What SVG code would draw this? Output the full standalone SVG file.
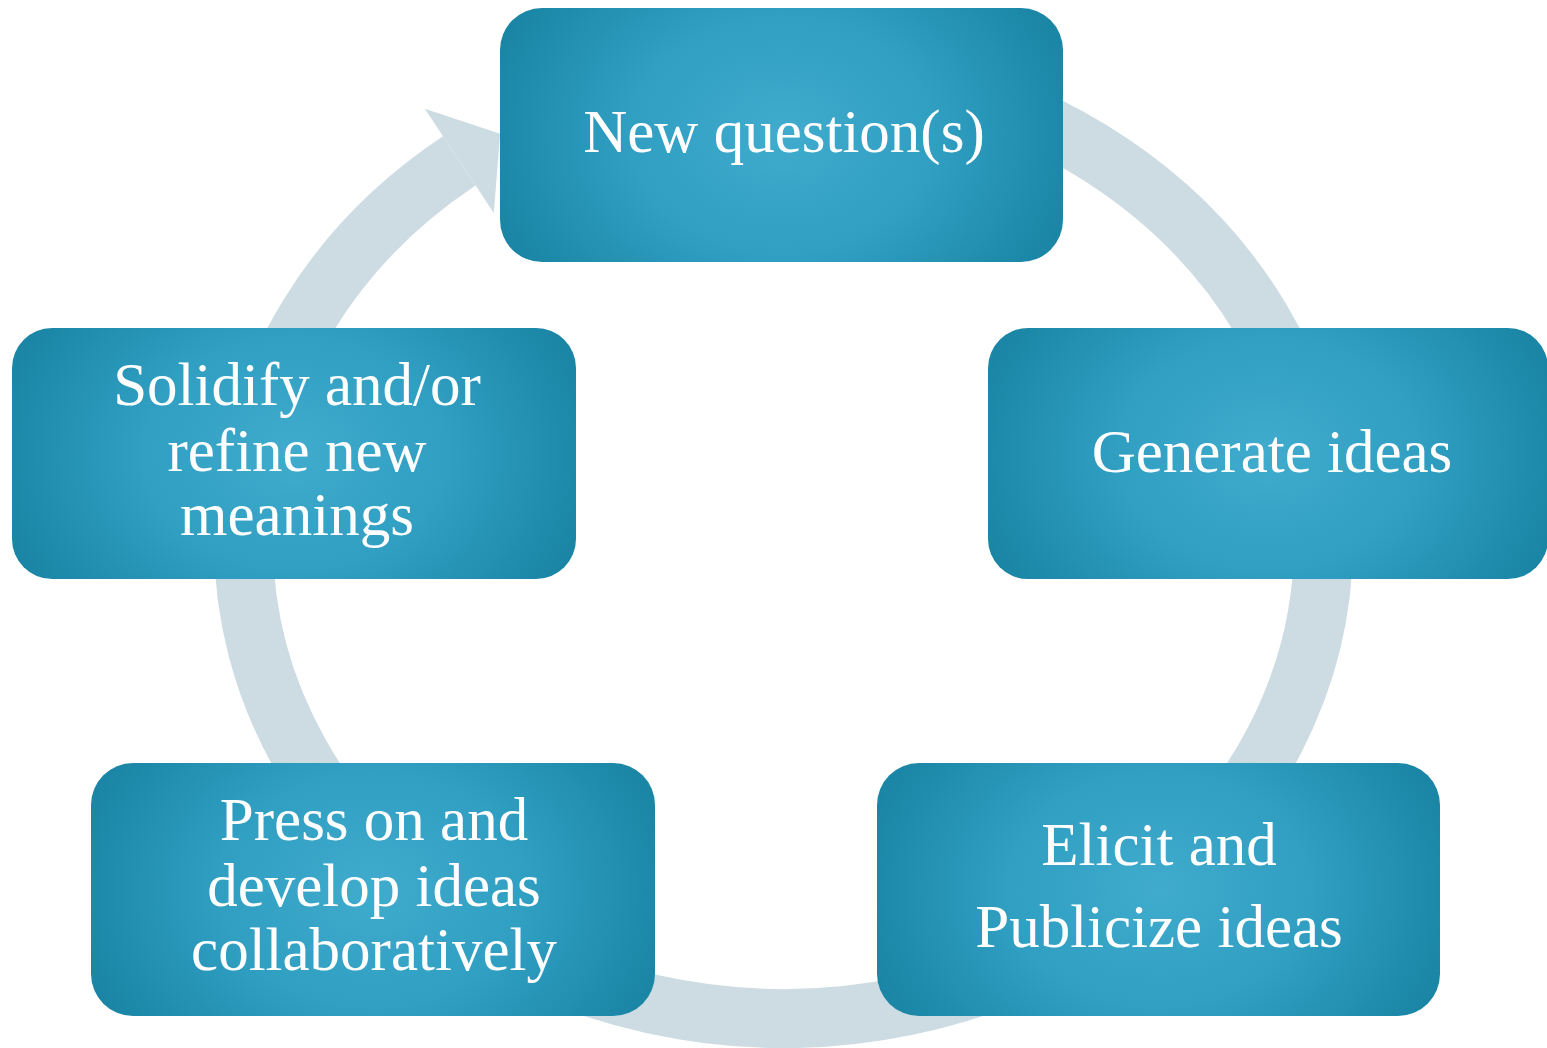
<svg xmlns="http://www.w3.org/2000/svg" width="1547" height="1048" viewBox="0 0 1547 1048">
  <defs>
    <!-- soft centred fill for each step box (boxes share ~563x253 size) -->
    <radialGradient id="boxFill" cx="0.5" cy="0.5" r="0.54" gradientTransform="translate(0.5 0.5) scale(1 1.75) translate(-0.5 -0.5)">
      <stop offset="0" stop-color="#40abcd"/>
      <stop offset="0.5" stop-color="#309fc2"/>
      <stop offset="1" stop-color="#1a85a5"/>
    </radialGradient>
    <style>
      .box { fill: url(#boxFill); }
      .label { font-family: "Liberation Serif", "Times New Roman", serif; font-size: 61px; fill: #ffffff; text-anchor: middle; }
      .ring { fill: none; stroke: #cddce3; stroke-width: 59; stroke-linecap: butt; }
      .head { fill: #cddce3; }
    </style>
  </defs>

  <!-- cycle ring with arrowhead pointing into the top step -->
  <g id="connectors">
    <path class="ring" d="M 877.3 72.7 A 540 476.5 0 1 1 459.3 160.9"/>
    <polygon class="head" points="424.8,108.8 500.1,133.8 493.8,213"/>
  </g>

  <g id="node-new-question">
    <rect class="box" x="500" y="8" width="563" height="254" rx="42" ry="42"/>
    <text class="label" x="784" y="152">New question(s)</text>
  </g>

  <g id="node-generate">
    <rect class="box" x="988" y="328" width="560" height="251" rx="40" ry="40"/>
    <text class="label" x="1272" y="471.5">Generate ideas</text>
  </g>

  <g id="node-elicit">
    <rect class="box" x="877" y="763" width="563" height="253" rx="42" ry="42"/>
    <text class="label" x="1159" y="865">Elicit and</text>
    <text class="label" x="1159" y="947">Publicize ideas</text>
  </g>

  <g id="node-press-on">
    <rect class="box" x="91" y="763" width="564" height="253" rx="42" ry="42"/>
    <text class="label" x="374" y="840">Press on and</text>
    <text class="label" x="374" y="906">develop ideas</text>
    <text class="label" x="374" y="970">collaboratively</text>
  </g>

  <g id="node-solidify">
    <rect class="box" x="12" y="328" width="564" height="251" rx="40" ry="40"/>
    <text class="label" x="297" y="405">Solidify and/or</text>
    <text class="label" x="297" y="471">refine new</text>
    <text class="label" x="297" y="535">meanings</text>
  </g>
</svg>
